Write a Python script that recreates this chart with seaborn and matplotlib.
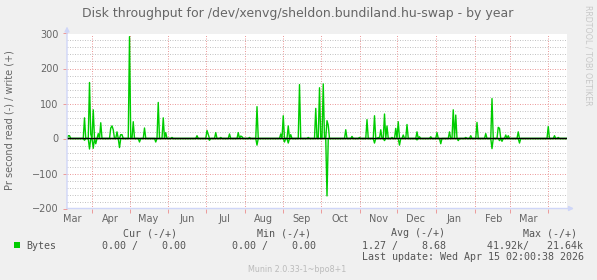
import numpy as np
import pandas as pd
import matplotlib
matplotlib.use("Agg")
import matplotlib.pyplot as plt
import matplotlib.dates as mdates
from matplotlib.ticker import MultipleLocator, FixedLocator, NullFormatter
import seaborn as sns

# ---------------- data ----------------
start_date = "2025-03-12"
n_days = 400

write_dates = ["2025-03-13", "2025-03-14", "2025-03-26", "2025-03-30", "2025-03-31",
               "2025-04-02", "2025-04-06", "2025-04-08", "2025-04-16", "2025-04-17",
               "2025-04-18", "2025-04-21", "2025-04-24", "2025-04-25", "2025-05-01",
               "2025-05-04", "2025-05-13", "2025-05-24", "2025-05-28", "2025-05-30",
               "2025-06-04", "2025-06-24", "2025-07-02", "2025-07-03", "2025-07-09",
               "2025-07-13", "2025-07-20", "2025-07-27", "2025-07-29", "2025-07-30",
               "2025-08-05", "2025-08-11", "2025-08-30", "2025-09-01", "2025-09-05",
               "2025-09-07", "2025-09-14", "2025-09-21", "2025-09-27", "2025-09-30",
               "2025-10-03", "2025-10-06", "2025-10-07", "2025-10-21", "2025-10-26",
               "2025-11-01", "2025-11-07", "2025-11-13", "2025-11-16", "2025-11-18",
               "2025-11-21", "2025-11-23", "2025-11-27", "2025-11-30", "2025-12-02",
               "2025-12-06", "2025-12-09", "2025-12-17", "2025-12-19", "2025-12-28",
               "2026-01-02", "2026-01-12", "2026-01-15", "2026-01-17", "2026-01-25",
               "2026-01-29", "2026-02-03", "2026-02-10", "2026-02-15", "2026-02-20",
               "2026-02-21", "2026-02-26", "2026-02-28", "2026-03-08", "2026-04-01",
               "2026-04-06", "2026-04-09"]
write_values = [8, 8, 59, 160, 12,
                82, 14, 45, 30, 36,
                25, 19, 11, 11, 291,
                48, 30, 103, 59, 17,
                3, 8, 23, 12, 17,
                3, 13, 17, 7, 5,
                3, 91, 13, 65, 36,
                11, 154, 3, 86, 145,
                156, 51, 38, 25, 6,
                3, 54, 65, 3, 25,
                70, 36, 3, 29, 48,
                10, 40, 19, 5, 5,
                17, 19, 82, 67, 3,
                8, 46, 14, 114, 32,
                29, 10, 8, 19, 34,
                8, 3]

read_dates = ["2025-03-26", "2025-03-30", "2025-04-02", "2025-04-04", "2025-04-23",
              "2025-05-09", "2025-05-22", "2025-07-04", "2025-08-11", "2025-09-02",
              "2025-09-05", "2025-10-06", "2025-11-13", "2025-11-21", "2025-12-03",
              "2025-12-17", "2026-01-05", "2026-01-19", "2026-02-15", "2026-02-21",
              "2026-02-23", "2026-03-09"]
read_values = [5, 30, 28, 15, 26,
               10, 10, 5, 19, 10,
               13, 164, 13, 6, 19,
               4, 15, 6, 29, 6,
               8, 13]

month_tick_dates = ["2025-03-16", "2025-04-16", "2025-05-16", "2025-06-16", "2025-07-16",
                    "2025-08-16", "2025-09-16", "2025-10-16", "2025-11-16", "2025-12-16",
                    "2026-01-16", "2026-02-16", "2026-03-16"]
month_labels = ["Mar", "Apr", "May", "Jun", "Jul", "Aug", "Sep", "Oct", "Nov", "Dec",
                "Jan", "Feb", "Mar"]
y_ticks = [-200, -100, 0, 100, 200, 300]

title = "Disk throughput for /dev/xenvg/sheldon.bundiland.hu-swap - by year"
ylabel = "Pr second read (-) / write (+)"
legend_headers = ["Cur (-/+)", "Min (-/+)", "Avg (-/+)", "Max (-/+)"]
legend_values = ["0.00 /    0.00", "0.00 /    0.00", "1.27 /    8.68", "41.92k/   21.64k"]
series_name = "Bytes"
last_update = "Last update: Wed Apr 15 02:00:38 2026"
footer = "Munin 2.0.33-1~bpo8+1"
side_text = "RRDTOOL / TOBI OETIKER"

# ---------------- build series ----------------
dates = pd.date_range(start_date, periods=n_days + 1, freq="D")
write = pd.Series(0.0, index=dates)
write.loc[pd.to_datetime(write_dates)] = write_values
read = pd.Series(0.0, index=dates)
read.loc[pd.to_datetime(read_dates)] = read_values
df = pd.DataFrame({"date": dates, "write": write.values, "read": -read.values})

# ---------------- figure ----------------
W, H = 597, 280
fig = plt.figure(figsize=(W / 100, H / 100), dpi=100, facecolor="#F0F0F0")

def fx(x):
    return x / W

def fy(y):
    return 1 - y / H

ax_l, ax_r, ax_t, ax_b = 67, 567, 33.5, 208.5
ax = fig.add_axes([fx(ax_l), fy(ax_b), (ax_r - ax_l) / W, (ax_b - ax_t) / H])
ax.set_facecolor("white")

GREEN = "#00CC00"
FONT = "#666666"
AXIS = "#CFD6F8"
MGRID = "#EC9C9C"
GRID = "#C4C4C4"

sns.lineplot(data=df, x="date", y="write", ax=ax, color=GREEN, lw=1.0, zorder=3)
sns.lineplot(data=df, x="date", y="read", ax=ax, color=GREEN, lw=1.0, zorder=3)
zl = ax.axhline(0, color="black", lw=1.0, zorder=4)
zl.set_snap(False)

x0 = pd.Timestamp(start_date)
ax.set_xlim(x0, x0 + pd.Timedelta(days=n_days))
ax.set_ylim(-200, 300)

# grid
ax.yaxis.set_major_locator(FixedLocator(y_ticks))
ax.yaxis.set_minor_locator(MultipleLocator(20))
ax.xaxis.set_major_locator(mdates.MonthLocator(bymonthday=1))
ax.xaxis.set_major_formatter(NullFormatter())
ax.xaxis.set_minor_locator(FixedLocator(mdates.date2num(pd.to_datetime(month_tick_dates))))
ax.xaxis.set_minor_formatter(matplotlib.ticker.FixedFormatter(month_labels))

dots = (0, (1, 1.5))
ax.yaxis.grid(True, which="minor", color=GRID, lw=0.72, ls=dots, zorder=0)
ax.yaxis.grid(True, which="major", color=MGRID, lw=0.72, ls=dots, zorder=1)
ax.xaxis.grid(True, which="major", color=MGRID, lw=0.72, ls=dots, zorder=1)
ax.xaxis.grid(False, which="minor")

ax.tick_params(axis="y", which="major", length=3, color=MGRID, width=0.72,
               labelsize=7, labelcolor=FONT, pad=3)
ax.tick_params(axis="y", which="minor", length=0)
ax.tick_params(axis="x", which="major", length=3, color=MGRID, width=0.72)
ax.tick_params(axis="x", which="minor", length=0, labelsize=7, labelcolor=FONT, pad=4)

ax.set_xlabel("")
ax.set_ylabel("")
for s in ax.spines.values():
    s.set_visible(False)

# axes with arrows
ax.annotate("", xy=(1.014, 0), xytext=(0, 0), xycoords="axes fraction",
            arrowprops=dict(arrowstyle="-|>", color=AXIS, lw=1.0, mutation_scale=7,
                            shrinkA=0, shrinkB=0), zorder=5, annotation_clip=False)
ax.annotate("", xy=(0, 1.04), xytext=(0, 0), xycoords="axes fraction",
            arrowprops=dict(arrowstyle="-|>", color=AXIS, lw=1.0, mutation_scale=7,
                            shrinkA=0, shrinkB=0), zorder=5, annotation_clip=False)

# texts
fig.text(fx(298), fy(14), title, ha="center", va="center", fontsize=9.0, color=FONT)
fig.text(fx(10), fy(120.5), ylabel, ha="center", va="center", rotation=90,
         fontsize=7, color=FONT)
fig.text(fx(588), fy(5), side_text, ha="center", va="top", rotation=270,
         fontsize=5.7, color="#C8C8C8")

mono = "DejaVu Sans Mono"
LEG = "#555555"
header_x = [123, 257.3, 390.7, 523.3]
value_x = [101.7, 231.7, 362.3, 486.7]
for hx, h in zip(header_x, legend_headers):
    fig.text(fx(hx), fy(233.3), h, ha="left", va="center", fontsize=7.2,
             family=mono, color=LEG)
for vx, v in zip(value_x, legend_values):
    fig.text(fx(vx), fy(245.7), v, ha="left", va="center", fontsize=7.2,
             family=mono, color=LEG)
fig.patches.append(plt.Rectangle((fx(14), fy(248.3)), 6 / W, 6 / H,
                                 transform=fig.transFigure, facecolor=GREEN,
                                 edgecolor="none"))
fig.text(fx(26.7), fy(245.7), series_name, ha="left", va="center", fontsize=7.2,
         family=mono, color=LEG)
fig.text(fx(362.3), fy(257.3), last_update, ha="left", va="center", fontsize=7.2,
         family=mono, color=LEG)
fig.text(fx(297.5), fy(269.5), footer, ha="center", va="center", fontsize=5.8,
         color="#BBBBBB")

fig.savefig("out.png", dpi=100, facecolor=fig.get_facecolor())
